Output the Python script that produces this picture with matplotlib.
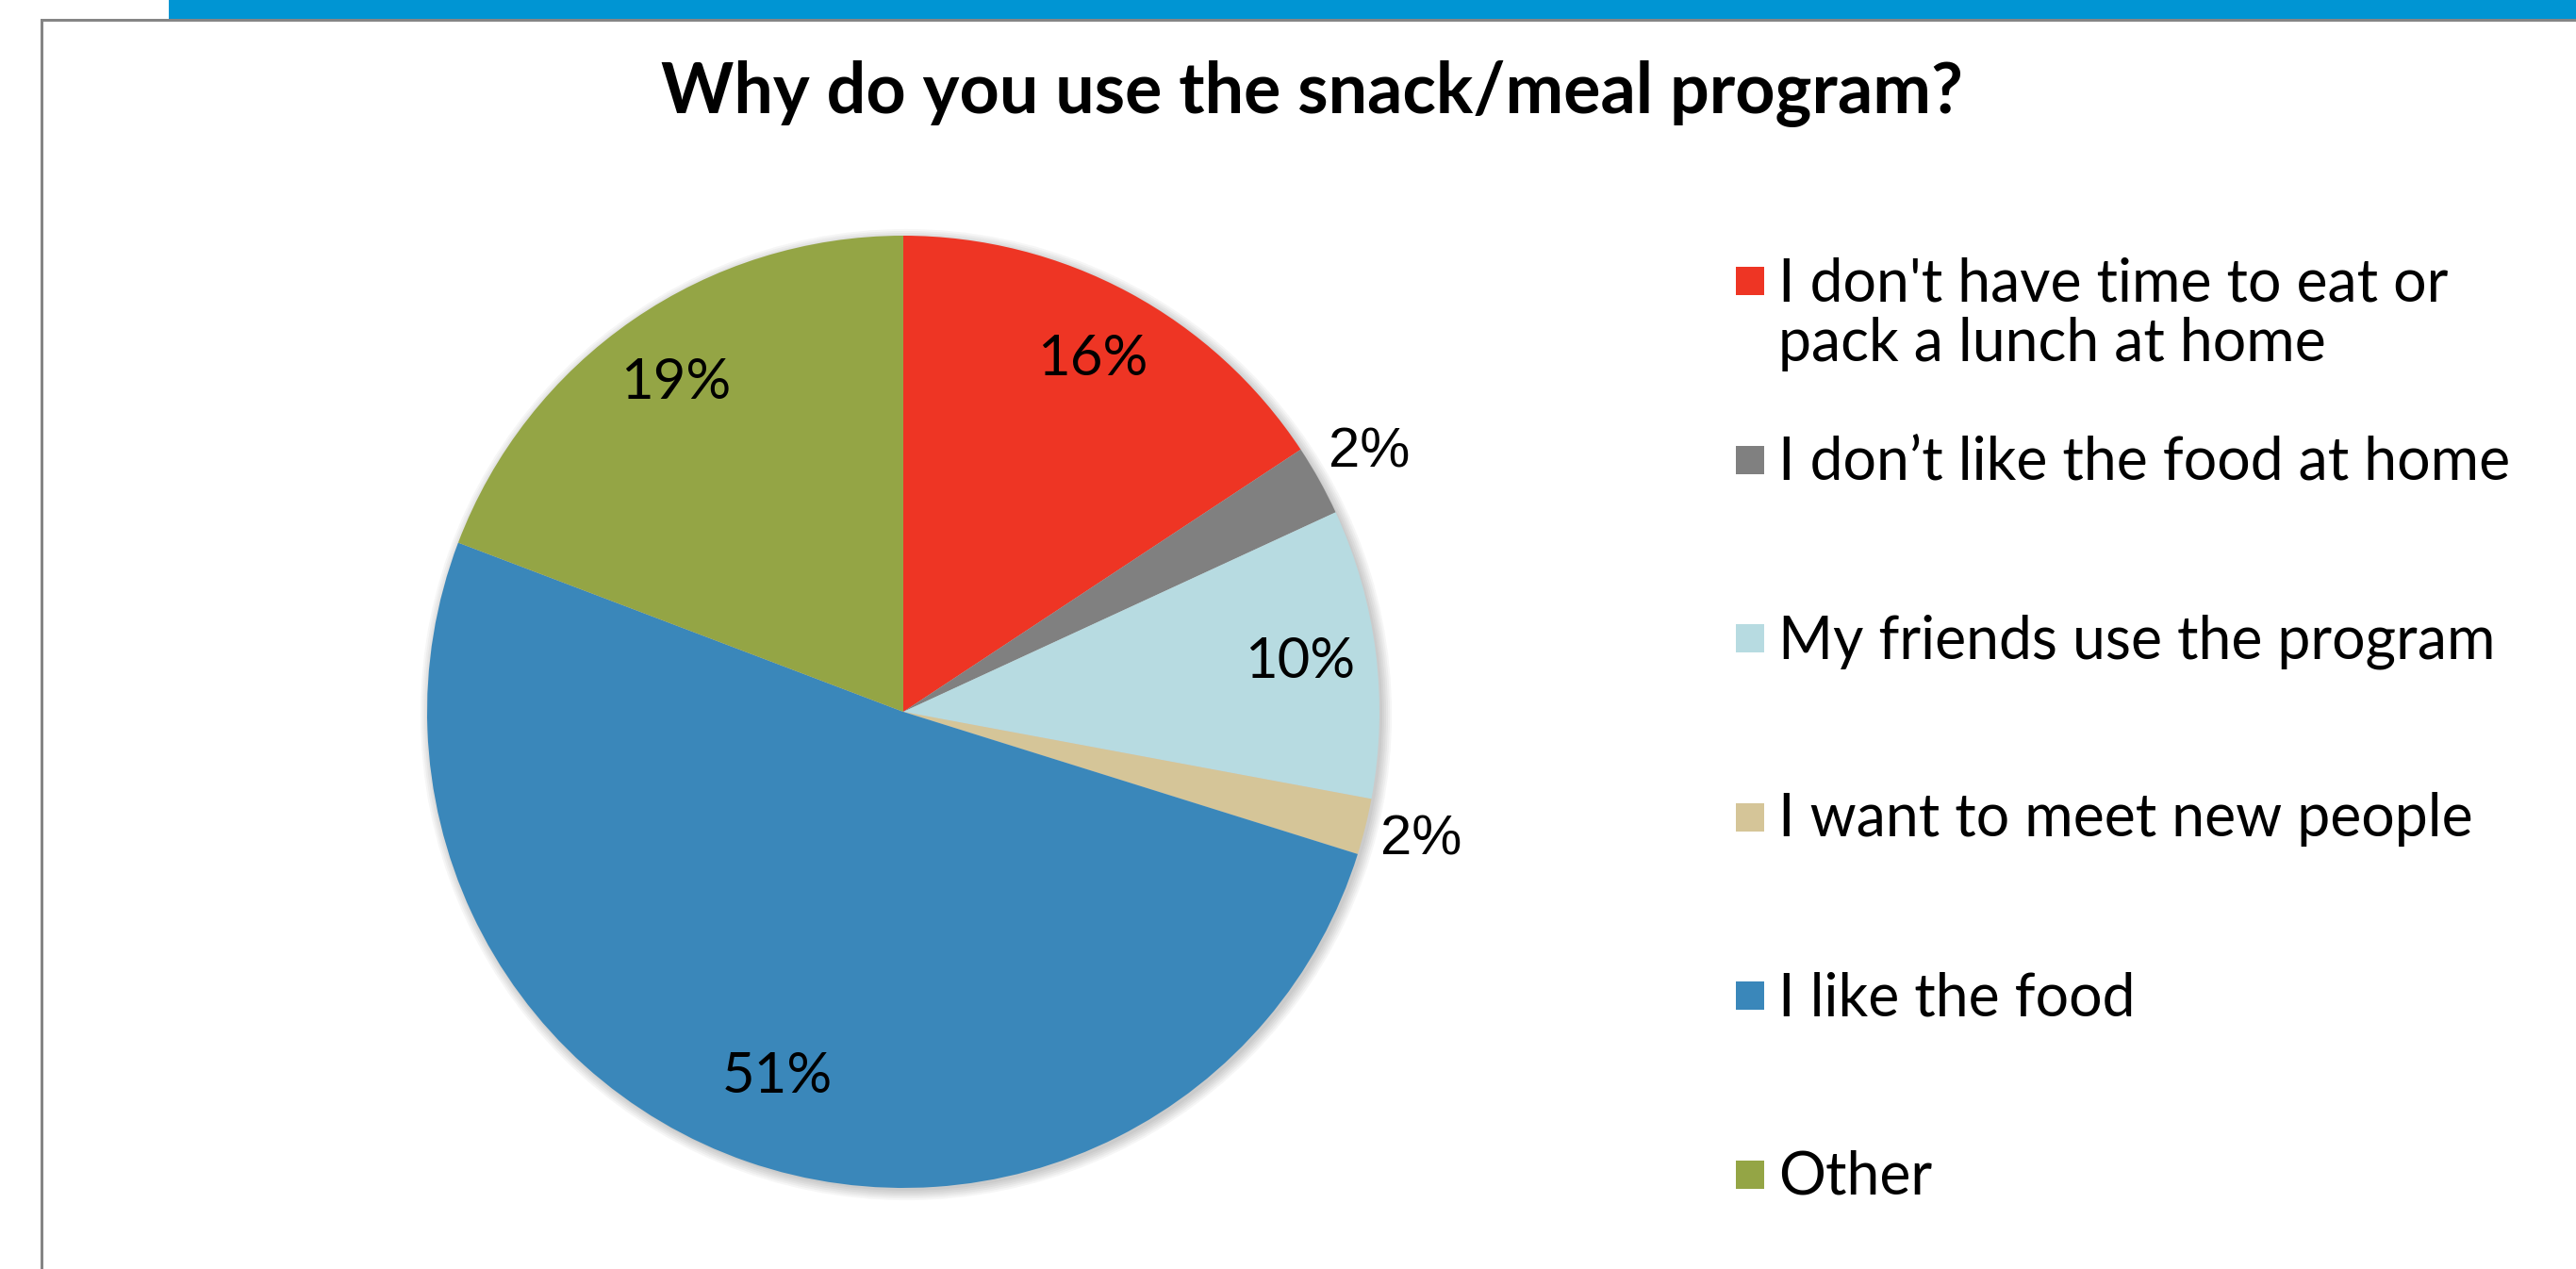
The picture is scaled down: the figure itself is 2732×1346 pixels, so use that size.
import matplotlib
matplotlib.use("Agg")
import matplotlib.pyplot as plt
from matplotlib.patches import Rectangle, Circle
import numpy as np

# ---- data ----
categories = [
    "I don't have time to eat or\npack a lunch at home",
    "I don\u2019t like the food at home",
    "My friends use the program",
    "I want to meet new people",
    "I like the food",
    "Other",
]
values = [15.7, 2.4, 9.8, 1.9, 50.9, 19.2]
colors = ["#EE3524", "#808080", "#B7DBE1", "#D5C598", "#3A87BA", "#94A545"]
title = "Why do you use the snack/meal program?"

W, H = 2732, 1346
DPI = 100
fig = plt.figure(figsize=(W / DPI, H / DPI), dpi=DPI)
fig.patch.set_facecolor("white")

# frame decorations (pixel coordinates)
deco = fig.add_axes([0, 0, 1, 1])
deco.set_xlim(0, W)
deco.set_ylim(H, 0)
deco.axis("off")
deco.add_patch(Rectangle((179, 0), W - 179, 20, color="#0095D3", lw=0))
deco.add_patch(Rectangle((43, 19.5), W - 43, 3, color="#858585", lw=0))
deco.add_patch(Rectangle((43, 19.5), 2.6, H - 19.5, color="#858585", lw=0))

# pie axes: 1 data unit = R pixels
cx, cy, R = 958, 755, 505
ax = fig.add_axes([0, 0, 1, 1])
ax.patch.set_alpha(0)

# soft shadow
for k in range(6):
    ax.add_patch(Circle((0.006, -0.006), 1.0 + 0.004 * k, color="#000000",
                        alpha=0.035, lw=0, zorder=0))

wedges, _ = ax.pie(values, colors=colors, startangle=90, counterclock=False,
                   radius=1.0, wedgeprops=dict(linewidth=0))
ax.set_xlim(-cx / R, (W - cx) / R)
ax.set_ylim(-(H - cy) / R, cy / R)
ax.set_aspect("auto")
ax.axis("off")

total = sum(values)
for w, v in zip(wedges, values):
    pct = 100 * v / total
    ang = np.deg2rad((w.theta1 + w.theta2) / 2)
    if pct < 5:
        d = 1.12
        fam = ["Liberation Sans", "DejaVu Sans"]
        fs = 43
    else:
        d = 0.84 if pct < 40 else 0.81
        fam = ["Lato", "DejaVu Sans"]
        fs = 43
    ax.text(d * np.cos(ang), d * np.sin(ang), f"{pct:.0f}%", ha="center",
            va="center", fontsize=fs, family=fam, color="black")

# title
fig.text(1391 / W, 1 - 120 / H, title, ha="center", va="baseline",
         fontsize=53, fontweight="bold", family=["Lato", "DejaVu Sans"],
         color="black")

# legend
box = 30
line_gap = 64
for i, (lab, col) in enumerate(zip(categories, colors)):
    ymid = 298 + 189.5 * i
    deco.add_patch(Rectangle((1841, ymid - box / 2), box, box, color=col, lw=0))
    for j, line in enumerate(lab.split("\n")):
        deco.text(1886, ymid + 21 + j * line_gap, line, ha="left",
                  va="baseline", fontsize=45,
                  family=["Lato", "DejaVu Sans"], color="black")

fig.savefig("out.png", dpi=DPI)
